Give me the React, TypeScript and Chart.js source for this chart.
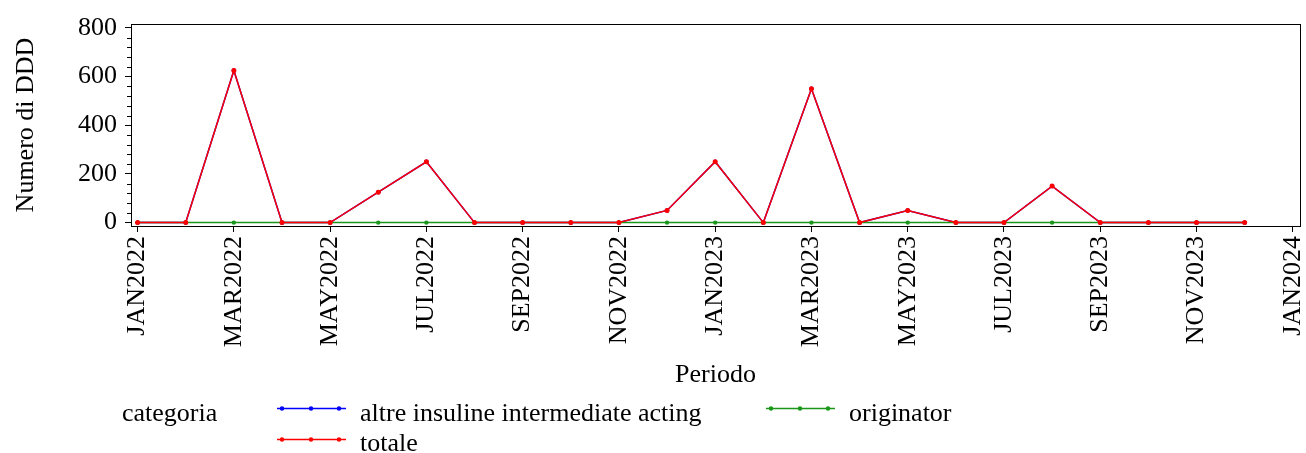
import React, { useEffect, useRef } from 'react';
import { Chart, registerables } from 'chart.js';

Chart.register(...registerables);

// ---- data ----
const monthLabels = [
  'JAN2022', 'FEB2022', 'MAR2022', 'APR2022', 'MAY2022', 'JUN2022',
  'JUL2022', 'AUG2022', 'SEP2022', 'OCT2022', 'NOV2022', 'DEC2022',
  'JAN2023', 'FEB2023', 'MAR2023', 'APR2023', 'MAY2023', 'JUN2023',
  'JUL2023', 'AUG2023', 'SEP2023', 'OCT2023', 'NOV2023', 'DEC2023',
];
const xTickLabels = [
  'JAN2022', 'MAR2022', 'MAY2022', 'JUL2022', 'SEP2022', 'NOV2022',
  'JAN2023', 'MAR2023', 'MAY2023', 'JUL2023', 'SEP2023', 'NOV2023', 'JAN2024',
];
const xTickValues = [0, 2, 4, 6, 8, 10, 12, 14, 16, 18, 20, 22, 24];
const yTickValues = [0, 200, 400, 600, 800];
const yMinorTickValues = [40, 80, 120, 160, 240, 280, 320, 360, 440, 480, 520, 560, 640, 680, 720, 760];

const altreInsuline = [0, 0, 625, 0, 0, 125, 250, 0, 0, 0, 0, 50, 250, 0, 550, 0, 50, 0, 0, 150, 0, 0, 0, 0];
const originator = [0, 0, 0, 0, 0, 0, 0, 0, 0, 0, 0, 0, 0, 0, 0, 0, 0, 0, 0, 0, 0, 0, 0, 0];
const totale = [0, 0, 625, 0, 0, 125, 250, 0, 0, 0, 0, 50, 250, 0, 550, 0, 50, 0, 0, 150, 0, 0, 0, 0];

const seriesNames = ['altre insuline intermediate acting', 'originator', 'totale'];
const legendTitle = 'categoria';
const xTitle = 'Periodo';
const yTitle = 'Numero di DDD';

// ---- styles ----
const FONT = "'Liberation Serif', 'Times New Roman', Times, serif";
const FS = 26;
const BLUE = '#0000ff';
const GREEN = '#1a961a';
const RED = '#ff0000';

const toPoints = (vals: number[]) => monthLabels.map((_, i) => ({ x: i, y: vals[i] }));

const decorPlugin = {
  id: 'decor',
  afterDraw(chart: any) {
    const { ctx, chartArea: a, scales } = chart;
    ctx.save();
    // frame
    ctx.strokeStyle = '#000';
    ctx.lineWidth = 1;
    ctx.strokeRect(Math.round(a.left) + 0.5, Math.round(a.top) + 0.5,
      Math.round(a.right) - Math.round(a.left), Math.round(a.bottom) - Math.round(a.top));
    // minor y ticks
    const ys = scales.y;
    ctx.beginPath();
    yMinorTickValues.forEach((v) => {
      const py = Math.round(ys.getPixelForValue(v)) + 0.5;
      ctx.moveTo(Math.round(a.left) - 4, py);
      ctx.lineTo(Math.round(a.left), py);
    });
    ctx.stroke();

    ctx.fillStyle = '#000';
    ctx.font = `${FS}px ${FONT}`;
    // x title
    ctx.textAlign = 'center';
    ctx.textBaseline = 'alphabetic';
    ctx.fillText(xTitle, (a.left + a.right) / 2, 382);
    // y title
    ctx.save();
    ctx.translate(33, (a.top + a.bottom) / 2);
    ctx.rotate(-Math.PI / 2);
    ctx.fillText(yTitle, 0, 0);
    ctx.restore();

    // legend
    ctx.textAlign = 'left';
    ctx.fillText(legendTitle, 122, 421);
    const items = [
      { name: seriesNames[0], color: BLUE, x: 277, row: 0 },
      { name: seriesNames[1], color: GREEN, x: 766, row: 0 },
      { name: seriesNames[2], color: RED, x: 277, row: 1 },
    ];
    items.forEach((it) => {
      const ly = it.row === 0 ? 408.5 : 439.5;
      const base = it.row === 0 ? 421 : 451;
      ctx.strokeStyle = it.color;
      ctx.lineWidth = 1.5;
      ctx.beginPath();
      ctx.moveTo(it.x, ly);
      ctx.lineTo(it.x + 69, ly);
      ctx.stroke();
      ctx.fillStyle = it.color;
      [it.x + 5, it.x + 34, it.x + 62].forEach((dx) => {
        ctx.beginPath();
        ctx.arc(dx, ly, 2.2, 0, Math.PI * 2);
        ctx.fill();
      });
      ctx.fillStyle = '#000';
      ctx.fillText(it.name, it.x + 83, base);
    });
    ctx.restore();
  },
};

export default function App() {
  const ref = useRef<HTMLCanvasElement | null>(null);
  useEffect(() => {
    if (!ref.current) return;
    const chart = new Chart(ref.current, {
      type: 'line',
      data: {
        datasets: [
          {
            label: seriesNames[0],
            data: toPoints(altreInsuline),
            borderColor: BLUE,
            backgroundColor: BLUE,
            borderWidth: 1.5,
            pointRadius: 2.2,
            pointBorderWidth: 0,
            order: 3,
          },
          {
            label: seriesNames[1],
            data: toPoints(originator),
            borderColor: GREEN,
            backgroundColor: GREEN,
            borderWidth: 1.5,
            pointRadius: 2.2,
            pointBorderWidth: 0,
            order: 2,
          },
          {
            label: seriesNames[2],
            data: toPoints(totale),
            borderColor: RED,
            backgroundColor: RED,
            borderWidth: 1.5,
            pointRadius: 2.5,
            pointBorderWidth: 0,
            order: 1,
          },
        ],
      },
      options: {
        animation: false,
        responsive: false,
        maintainAspectRatio: false,
        layout: { padding: { left: 0, top: 24, right: 6, bottom: 0 } },
        plugins: { legend: { display: false }, tooltip: { enabled: false }, title: { display: false } },
        scales: {
          x: {
            type: 'linear',
            min: -0.137,
            max: 24.15,
            afterBuildTicks: (s: any) => { s.ticks = xTickValues.map((v) => ({ value: v })); },
            afterFit: (s: any) => { s.height = 453 - 226; s.paddingLeft = 0; s.paddingRight = 0; },
            border: { display: true, color: '#000', width: 1 },
            grid: { display: true, drawOnChartArea: false, drawTicks: true, tickLength: 6, tickColor: '#000' },
            ticks: {
              autoSkip: false,
              minRotation: 90,
              maxRotation: 90,
              padding: 4,
              color: '#000',
              font: { family: FONT, size: FS, lineHeight: 1 },
              callback: (_v: any, i: number) => xTickLabels[i],
            },
          },
          y: {
            type: 'linear',
            min: -14,
            max: 816,
            afterBuildTicks: (s: any) => { s.ticks = yTickValues.map((v) => ({ value: v })); },
            afterFit: (s: any) => { s.width = 131; s.paddingTop = 0; s.paddingBottom = 0; },
            border: { display: true, color: '#000', width: 1 },
            grid: { display: true, drawOnChartArea: false, drawTicks: true, tickLength: 6, tickColor: '#000' },
            ticks: {
              padding: 8,
              color: '#000',
              font: { family: FONT, size: FS, lineHeight: 1 },
              callback: (v: any) => String(v),
            },
          },
        },
      },
      plugins: [decorPlugin],
    } as any);
    return () => chart.destroy();
  }, []);
  return (
    <div style={{ position: 'absolute', left: 0, top: 0, width: 1306, height: 453, background: '#fff' }}>
      <canvas ref={ref} width={1306} height={453} style={{ width: 1306, height: 453, display: 'block' }} />
    </div>
  );
}
